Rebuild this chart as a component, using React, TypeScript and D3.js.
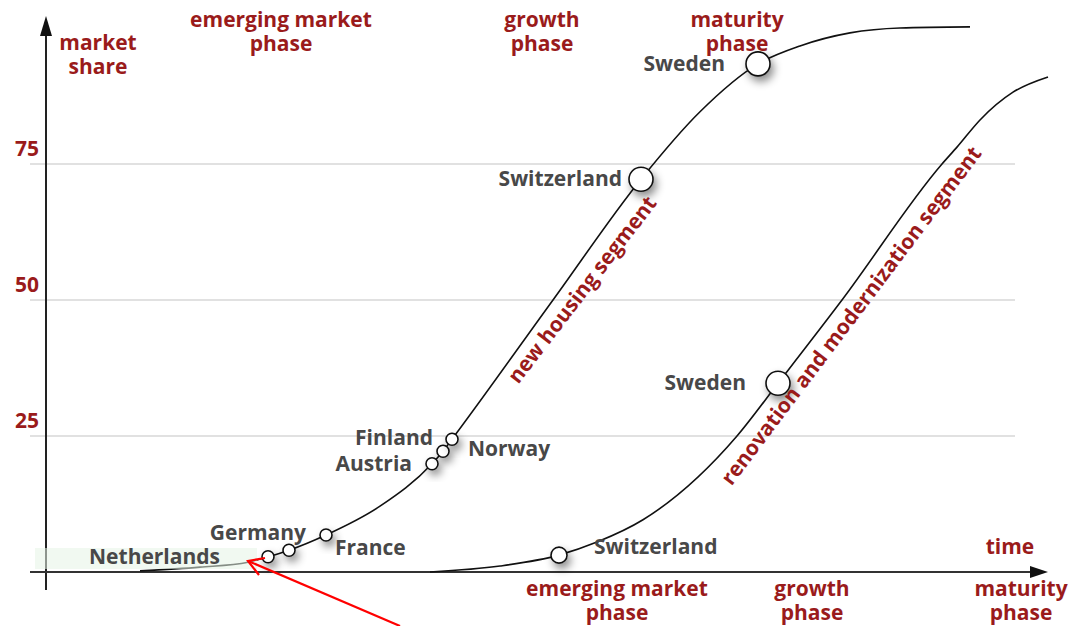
import React from "react";
import * as d3 from "d3";

// ---- data ----
const yTicks = [25, 50, 75];
const newHousingT = [9.4, 15.4, 20.2, 22.2, 24.3, 28.0, 33.4, 38.6, 39.7, 40.6, 50.7, 59.5, 65.4, 71.2, 75.4, 80.4, 85.4, 92.4];
const newHousingV = [0.2, 0.9, 1.8, 2.8, 4.0, 6.8, 12.1, 19.9, 22.2, 24.4, 50.0, 72.2, 84.6, 93.4, 96.7, 99.1, 100.0, 100.2];
const renovationT = [38.4, 45.4, 51.3, 55.1, 59.7, 69.1, 73.2, 79.6, 89.6, 91.1, 93.4, 96.7, 100.2];
const renovationV = [0.0, 1.1, 3.1, 5.5, 9.6, 25.0, 34.7, 50.0, 75.0, 78.1, 83.1, 88.2, 91.0];

const countryNames = ["Netherlands", "Germany", "France", "Austria", "Norway", "Finland", "Switzerland", "Sweden", "Switzerland", "Sweden"];
const countryT = [22.2, 24.3, 28.0, 38.6, 39.7, 40.6, 59.5, 71.2, 51.3, 73.2];
const countryV = [2.8, 4.0, 6.8, 19.9, 22.2, 24.4, 72.2, 93.4, 3.1, 34.7];

const topPhases = [["emerging market", "phase"], ["growth", "phase"], ["maturity", "phase"]];
const bottomPhases = [["emerging market", "phase"], ["growth", "phase"], ["maturity", "phase"]];
const yTitle = ["market", "share"];
const xTitle = "time";
const segmentLabels = ["new housing segment", "renovation and modernization segment"];

// ---- layout (not data) ----
const W = 1071, H = 626;
const markerR = [6, 6, 6, 6, 6, 6, 12, 12, 8, 12];
const labelLayout: [number, number, string][] = [
  [-48, 7, "end"], [17, -10, "end"], [9, 20, "start"], [-20, 7, "end"], [25, 5, "start"],
  [-19, 6, "end"], [-19, 7, "end"], [-33, 7, "end"], [35, -1, "start"], [-32, 7, "end"],
];
const topPhaseX = [281, 542, 737];
const bottomPhaseX = [617, 812, 1021];
const segmentLayout: [number, number, number][] = [[588, 294, -52.5], [857, 320, -53]];

const RED = "#9a1b1b";
const GREY = "#484848";
const FONT = "'Open Sans', 'Liberation Sans', sans-serif";

export default function App() {
  const x = d3.scaleLinear().domain([0, 100]).range([46, 1046]);
  const y = d3.scaleLinear().domain([0, 100]).range([572, 28]);
  const line = d3
    .line<[number, number]>()
    .x((d) => x(d[0]))
    .y((d) => y(d[1]))
    .curve(d3.curveMonotoneX);
  const c1 = newHousingT.map((t, i) => [t, newHousingV[i]] as [number, number]);
  const c2 = renovationT.map((t, i) => [t, renovationV[i]] as [number, number]);

  const redText = (lines: string[], cx: number, y0: number, key: string) =>
    lines.map((l, i) => (
      <text key={key + i} x={cx} y={y0 + i * 24} textAnchor="middle" fill={RED} fontSize={21} fontWeight={700} fontFamily={FONT}>
        {l}
      </text>
    ));

  return (
    <svg width={W} height={H} style={{ position: "absolute", left: 0, top: 0, background: "#fff" }}>
      <defs>
        <filter id="shadow" x="-100%" y="-100%" width="300%" height="300%">
          <feDropShadow dx={3} dy={5} stdDeviation={4} floodColor="#000" floodOpacity={0.45} />
        </filter>
      </defs>
      {/* gridlines */}
      {yTicks.map((t) => (
        <line key={t} x1={30} x2={1015} y1={y(t)} y2={y(t)} stroke="#c4c4c4" strokeWidth={1.2} />
      ))}
      {yTicks.map((t) => (
        <text key={"l" + t} x={15} y={y(t) - 8} fill={RED} fontSize={21} fontWeight={700} fontFamily={FONT}>{t}</text>
      ))}
      {/* axes */}
      <line x1={46} x2={46} y1={590} y2={34} stroke="#222" strokeWidth={2} />
      <path d={`M46,16 L40,36 L52,36 Z`} fill="#111" />
      <line x1={30} x2={1034} y1={y(0)} y2={y(0)} stroke="#333" strokeWidth={2} />
      <path d={`M1048,${y(0)} L1030,${y(0) - 6} L1030,${y(0) + 6} Z`} fill="#111" />

      {/* curves */}
      <path d={line(c1) || ""} fill="none" stroke="#111" strokeWidth={1.6} />
      <path d={line(c2) || ""} fill="none" stroke="#111" strokeWidth={1.6} />
      {/* highlight band */}
      <rect x={35} y={548} width={222} height={21} fill="#e6f4e6" opacity={0.55} />

      {/* markers */}
      {countryNames.map((n, i) => (
        <circle key={"c" + i} cx={x(countryT[i])} cy={y(countryV[i])} r={markerR[i]} fill="#fff" stroke="#111" strokeWidth={1.6} filter="url(#shadow)" />
      ))}
      {countryNames.map((n, i) => (
        <text key={"t" + i} x={x(countryT[i]) + labelLayout[i][0]} y={y(countryV[i]) + labelLayout[i][1]} textAnchor={labelLayout[i][2] as any} fill={GREY} fontSize={21} fontWeight={700} fontFamily={FONT}>{n}</text>
      ))}

      {/* segment labels */}
      {segmentLabels.map((s, i) => (
        <text key={"s" + i} transform={`translate(${segmentLayout[i][0]},${segmentLayout[i][1]}) rotate(${segmentLayout[i][2]})`} textAnchor="middle" fill={RED} fontSize={21} fontWeight={700} fontFamily={FONT}>{s}</text>
      ))}

      {/* axis titles */}
      {redText(yTitle, 98, 50, "ms")}
      {topPhases.map((p, i) => redText(p, topPhaseX[i], 27, "tp" + i))}
      {bottomPhases.map((p, i) => redText(p, bottomPhaseX[i], 596, "bp" + i))}
      <text x={1010} y={554} textAnchor="middle" fill={RED} fontSize={21} fontWeight={700} fontFamily={FONT}>{xTitle}</text>

      {/* red arrow */}
      <line x1={400} y1={626} x2={248} y2={561} stroke="#ff0000" strokeWidth={2.2} />
      <polyline points="265,558 248,561 259,575" fill="none" stroke="#ff0000" strokeWidth={2.2} />
    </svg>
  );
}
